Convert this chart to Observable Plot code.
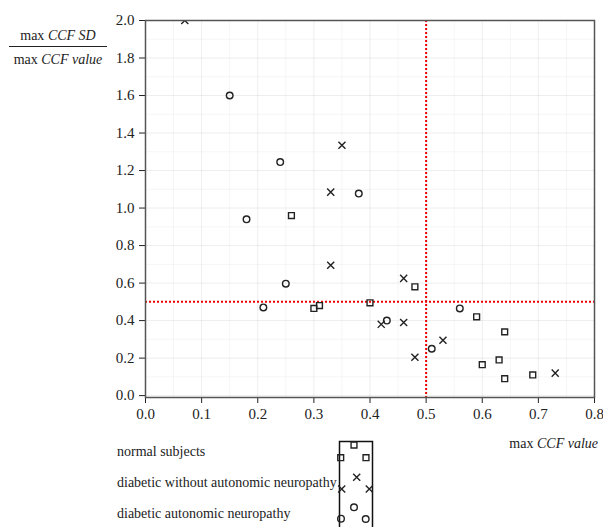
<!DOCTYPE html>
<html><head><meta charset="utf-8">
<script src="https://cdn.jsdelivr.net/npm/d3@7"></script>
<script src="https://cdn.jsdelivr.net/npm/@observablehq/plot@0.6"></script>
<style>
body{margin:0;background:#fff;}
#wrap{position:relative;width:603px;height:527px;overflow:hidden;font-family:"Liberation Serif","Times New Roman",serif;color:#222;font-size:14px;}
.lbl{position:absolute;white-space:nowrap;line-height:20px;}
#wrap svg.plot{position:absolute;left:0;top:0;}
#wrap svg.plot text{font-family:"Liberation Serif","Times New Roman",serif !important;font-size:15px;}
</style></head><body><div id="wrap"></div>
<script>
// Series
const groups = ["normal subjects", "diabetic without autonomic neuropathy", "diabetic autonomic neuropathy"];
const symbols = ["square", "times", "circle"];
const normalX = [0.26, 0.30, 0.31, 0.40, 0.48, 0.59, 0.64, 0.63, 0.60, 0.64, 0.69];
const normalY = [0.96, 0.465, 0.48, 0.495, 0.58, 0.42, 0.34, 0.19, 0.165, 0.09, 0.11];
const withoutX = [0.07, 0.35, 0.33, 0.33, 0.46, 0.42, 0.46, 0.53, 0.48, 0.73];
const withoutY = [2.0, 1.335, 1.085, 0.695, 0.625, 0.38, 0.39, 0.295, 0.205, 0.12];
const autonX = [0.15, 0.24, 0.38, 0.18, 0.25, 0.21, 0.56, 0.43, 0.51];
const autonY = [1.60, 1.245, 1.077, 0.94, 0.597, 0.47, 0.465, 0.40, 0.25];
const xTicks = [0, 0.1, 0.2, 0.3, 0.4, 0.5, 0.6, 0.7, 0.8];
const yTicks = [0, 0.2, 0.4, 0.6, 0.8, 1.0, 1.2, 1.4, 1.6, 1.8, 2.0];
const xMinor = [0.05, 0.15, 0.25, 0.35, 0.45, 0.55, 0.65, 0.75];
const yMinor = [0.1, 0.3, 0.5, 0.7, 0.9, 1.1, 1.3, 1.5, 1.7, 1.9];
const thresholdX = [0.5];
const thresholdY = [0.5];

const rows = [];
[[normalX, normalY], [withoutX, withoutY], [autonX, autonY]].forEach(([xs, ys], g) => {
  xs.forEach((x, i) => rows.push({x, y: ys[i], group: groups[g]}));
});

const chart = Plot.plot({
  width: 603, height: 435,
  marginLeft: 145, marginRight: 9, marginTop: 20, marginBottom: 38,
  style: {fontFamily: "Liberation Serif, serif", fontSize: "15px", color: "#222", background: "transparent"},
  x: {domain: [0, 0.8], ticks: xTicks, tickFormat: d3.format(".1f"), tickSize: 6, tickPadding: 5, label: null},
  y: {domain: [-0.01, 2.0], ticks: yTicks, tickFormat: d3.format(".1f"), tickSize: 6, tickPadding: 5, label: null},
  symbol: {domain: groups, range: symbols},
  marks: [
    Plot.ruleX(xMinor, {stroke: "#000", strokeOpacity: 0.04}),
    Plot.ruleY(yMinor, {stroke: "#000", strokeOpacity: 0.04}),
    Plot.ruleX(xTicks, {stroke: "#000", strokeOpacity: 0.07}),
    Plot.ruleY(yTicks, {stroke: "#000", strokeOpacity: 0.07}),
    Plot.ruleX(thresholdX, {stroke: "#e00", strokeWidth: 2, strokeDasharray: "2,2"}),
    Plot.ruleY(thresholdY, {stroke: "#e00", strokeWidth: 2, strokeDasharray: "2,2"}),
    Plot.dot(rows, {x: "x", y: "y", symbol: "group", stroke: "#222", fill: "none", r: 3.3, strokeWidth: 1.4, clip: true}),
    Plot.frame({stroke: "#555", strokeWidth: 1.5})
  ]
});
chart.classList.add("plot");
const wrap = document.getElementById("wrap");
wrap.appendChild(chart);

function label(html, css) {
  const d = document.createElement("div");
  d.className = "lbl";
  d.innerHTML = html;
  Object.assign(d.style, css);
  wrap.appendChild(d);
  return d;
}
// y-axis label as a fraction
label("max <i>CCF SD</i>", {left: "8px", top: "26px", width: "100px", textAlign: "center"});
label("", {left: "9px", top: "46px", width: "98px", height: "0px", borderTop: "1px solid #222"});
label("max <i>CCF value</i>", {left: "8px", top: "50px", width: "100px", textAlign: "center"});
// x-axis label
label("max <i>CCF value</i>", {right: "5px", top: "434px"});

// legend
const tops = [442, 473, 504];
groups.forEach((g, i) => label(g, {left: "117px", top: tops[i] + "px"}));
const lg = d3.create("svg").attr("width", 40).attr("height", 90)
  .style("position", "absolute").style("left", "337px").style("top", "439px");
lg.append("path").attr("d", "M2.5,90V2.5H35.5V90").attr("fill", "none").attr("stroke", "#111").attr("stroke-width", 1.5);
const sw = [
  [d3.symbolSquare, [[17, 6], [3.7, 18.7], [29, 18.7]]],
  [d3.symbolTimes, [[19.7, 38.3], [4.7, 50], [32.3, 50]]],
  [d3.symbolCircle, [[17, 68.3], [4, 79.7], [28.7, 80]]]
];
sw.forEach(([sym, pts]) => pts.forEach(([px, py]) => {
  lg.append("path").attr("d", d3.symbol(sym, 10.9 * Math.PI)()).attr("transform", `translate(${px},${py})`)
    .attr("fill", "none").attr("stroke", "#222").attr("stroke-width", 1.4);
}));
wrap.appendChild(lg.node());
</script>
</body></html>
